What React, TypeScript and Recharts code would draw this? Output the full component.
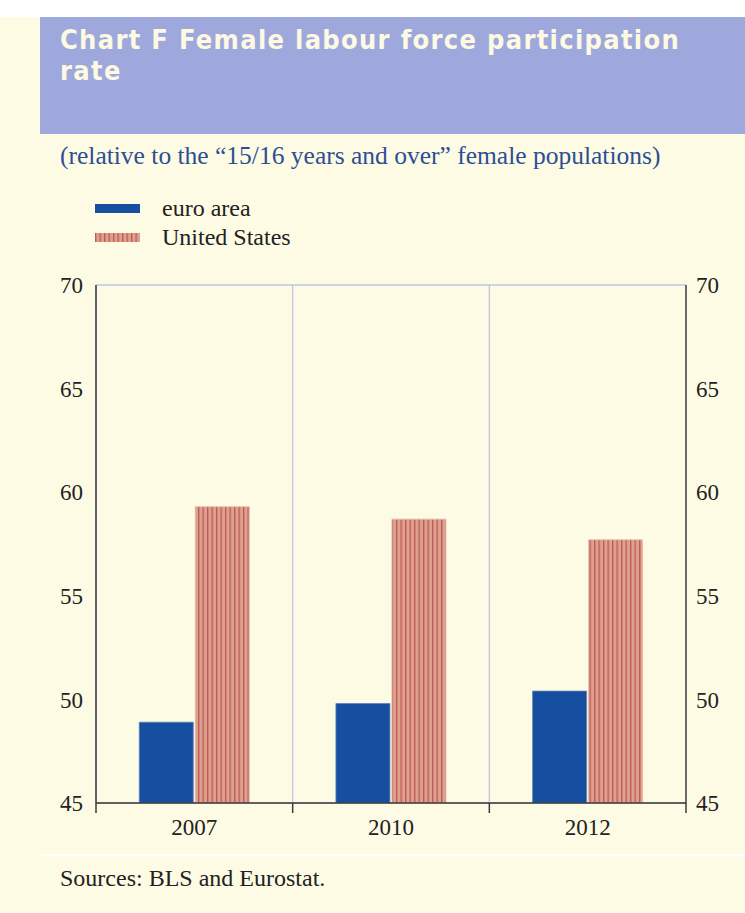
import { BarChart, Bar, XAxis, YAxis, CartesianGrid } from "recharts"

const years = ["2007", "2010", "2012"]
const euroArea = [48.9, 49.8, 50.4]
const unitedStates = [59.3, 58.7, 57.7]
const yTicks = [45, 50, 55, 60, 65, 70]
const seriesNames = ["euro area", "United States"]

const data = years.map((year, i) => ({
  year,
  euro: euroArea[i],
  us: unitedStates[i],
}))

const CREAM = "#fefbe4"
const GRID = "#c0c6e8"
const AXIS = "#3a3a3a"
const TEXT = "#222"
const SERIF = "'Liberation Serif', 'Times New Roman', serif"

const TICK_SIZE = 6
const TICK_MARGIN = 10

function YearTick(props: any) {
  const { x, y, payload, width, visibleTicksCount, index } = props
  const band = width / visibleTicksCount
  const axisY = y - TICK_SIZE - TICK_MARGIN
  const left = x - band / 2
  return (
    <g>
      <line x1={left} x2={left} y1={axisY} y2={axisY + 10} stroke={AXIS} strokeWidth={1.5} />
      {index === visibleTicksCount - 1 && (
        <line x1={left + band} x2={left + band} y1={axisY} y2={axisY + 10} stroke={AXIS} strokeWidth={1.5} />
      )}
      <text x={x} y={y} dy="0.71em" textAnchor="middle" fill={TEXT} fontSize={23} style={{ fontFamily: SERIF }}>
        {payload.value}
      </text>
    </g>
  )
}

function valueTick(props: any) {
  const { x, y, payload, textAnchor } = props
  return (
    <text
      key={payload.value}
      x={x}
      y={y}
      dy="0.355em"
      textAnchor={textAnchor}
      fill={TEXT}
      fontSize={23}
      style={{ fontFamily: SERIF }}
    >
      {payload.value}
    </text>
  )
}

function Stripes({ id }: { id: string }) {
  return (
    <pattern id={id} patternUnits="userSpaceOnUse" width={4.5} height={10}>
      <rect width={4.5} height={10} fill="#dea090" />
      <rect x={0} width={1.3} height={10} fill="#bd5a4e" />
    </pattern>
  )
}

export default function App() {
  return (
    <div
      style={{
        position: "absolute",
        top: 0,
        left: 0,
        width: 745,
        height: 913,
        background: CREAM,
        overflow: "hidden",
        fontFamily: SERIF,
      }}
    >
      <div style={{ position: "absolute", top: 0, left: 0, width: 745, height: 17, background: "#ffffff" }} />
      <div
        style={{
          position: "absolute",
          top: 17,
          left: 40,
          width: 705,
          height: 117,
          background: "#9ea8dc",
        }}
      >
        <div
          style={{
            position: "absolute",
            left: 20,
            top: 7,
            width: 680,
            color: "#fdf9e2",
            fontFamily: "'DejaVu Sans Condensed', 'DejaVu Sans', sans-serif",
            fontWeight: "bold",
            fontSize: 27,
            letterSpacing: 1.3,
            lineHeight: "31px",
          }}
        >
          Chart F Female labour force participation
          <br />
          rate
        </div>
      </div>
      <div
        style={{
          position: "absolute",
          top: 141,
          left: 60,
          fontSize: 25.5,
          color: "#2c4f94",
          whiteSpace: "nowrap",
        }}
      >
        (relative to the “15/16 years and over” female populations)
      </div>

      {/* legend */}
      <div style={{ position: "absolute", top: 194, left: 95, fontSize: 24, color: TEXT }}>
        {seriesNames.map((name, i) => (
          <div key={name} style={{ display: "flex", alignItems: "center", height: 29 }}>
            <svg width={45} height={9} style={{ marginRight: 22 }}>
              <defs>
                <Stripes id="usStripesLegend" />
              </defs>
              <rect width={45} height={9} fill={i === 1 ? "url(#usStripesLegend)" : "#174fa0"} />
            </svg>
            <span>{name}</span>
          </div>
        ))}
      </div>

      <div style={{ position: "absolute", top: 854, left: 40, width: 705, height: 2, background: "#ffffff" }} />
      <div style={{ position: "absolute", top: 865, left: 60, fontSize: 24, color: TEXT }}>
        Sources: BLS and Eurostat.
      </div>

      <div style={{ position: "absolute", top: 0, left: 0 }}>
        <BarChart
          width={745}
          height={850}
          data={data}
          margin={{ top: 285, right: 9, left: 46, bottom: 7 }}
          barCategoryGap="22%"
          barGap={2}
          style={{ fontFamily: SERIF }}
        >
          <defs>
            <Stripes id="usStripes" />
          </defs>
          <CartesianGrid
            stroke={GRID}
            strokeWidth={1.3}
            verticalCoordinatesGenerator={({ offset }: any) =>
              years.map((_, i) => offset.left + (offset.width * i) / years.length)
            }
          />
          <XAxis
            dataKey="year"
            axisLine={{ stroke: AXIS, strokeWidth: 1.5 }}
            tickLine={false}
            tickSize={TICK_SIZE}
            tickMargin={TICK_MARGIN}
            height={40}
            tick={<YearTick />}
            interval={0}
          />
          <YAxis
            yAxisId="left"
            orientation="left"
            domain={[45, 70]}
            ticks={yTicks}
            width={50}
            axisLine={{ stroke: AXIS, strokeWidth: 1.5 }}
            tickLine={false}
            tickMargin={7}
            tick={valueTick}
            allowDataOverflow
          />
          <YAxis
            yAxisId="right"
            orientation="right"
            domain={[45, 70]}
            ticks={yTicks}
            width={50}
            axisLine={{ stroke: AXIS, strokeWidth: 1.5 }}
            tickLine={false}
            tickMargin={4}
            tick={valueTick}
            allowDataOverflow
          />
          <Bar
            yAxisId="left"
            dataKey="euro"
            name={seriesNames[0]}
            fill="#174fa0"
            stroke="#5a7fc0"
            strokeWidth={0.8}
            isAnimationActive={false}
          />
          <Bar
            yAxisId="left"
            dataKey="us"
            name={seriesNames[1]}
            fill="url(#usStripes)"
            stroke="#e8b8a8"
            strokeWidth={0.8}
            isAnimationActive={false}
          />
        </BarChart>
      </div>
    </div>
  )
}
